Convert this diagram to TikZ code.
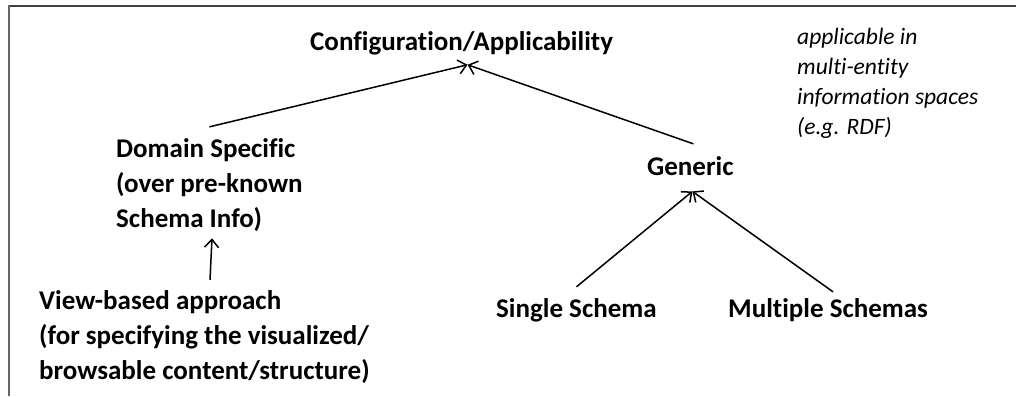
\documentclass[tikz,border=0pt]{standalone}
\usepackage{fontspec}
\setmainfont{Carlito}[Ligatures=NoCommon]
\usetikzlibrary{arrows.meta}
\tikzset{
  lbl/.style={inner sep=0pt, anchor=base west, align=left,
    font=\fontsize{27}{35}\selectfont\bfseries},
  note/.style={inner sep=0pt, anchor=base west, align=left,
    font=\fontsize{23.5}{30}\selectfont\itshape},
  arr/.style={-{Straight Barb[length=8pt,width=14pt]}, line width=1.5pt},
  frame/.style={line width=2pt}
}
\begin{document}
\begin{tikzpicture}[x=1pt,y=-1pt]
\useasboundingbox (0,0) rectangle (1016,396);
% open frame: top edge and left edge
\draw[frame, black!75] (8,6) -- (1016,6);
\draw[frame, black!60] (8.5,5) -- (8.5,396);

% multi-line labels are placed by the baseline of their last line
\node[lbl] (conf) at (310,50) {Configuration/Applicability};
\node[lbl] (dom) at (116,227) {Domain Specific\\(over pre-known\\Schema Info)};
\node[lbl] (vb) at (39,379) {View-based approach\\(for specifying the visualized/\\browsable content/structure)};
\node[lbl] (gen) at (647,175) {Generic};
\node[lbl] (single) at (496,317) {Single Schema};
\node[lbl] (multi) at (728,317) {Multiple Schemas};
\node[note] (appl) at (797,134) {applicable in\\multi-entity\\information spaces\\(e.g. RDF)};

\draw[arr] ([shift={(0,-11)}]dom.north) -- ([shift={(6,10)}]conf.south);
\draw[arr] ([shift={(3,-12)}]gen.north) -- ([shift={(6,10)}]conf.south);
\draw[arr] ([shift={(171,-10)}]vb.north west) -- ([shift={(96,7)}]dom.south west);
\draw[arr] ([shift={(0,-11)}]single.north) -- ([shift={(2,16)}]gen.south);
\draw[arr] ([shift={(5,-6)}]multi.north) -- ([shift={(2,16)}]gen.south);
\end{tikzpicture}
\end{document}
